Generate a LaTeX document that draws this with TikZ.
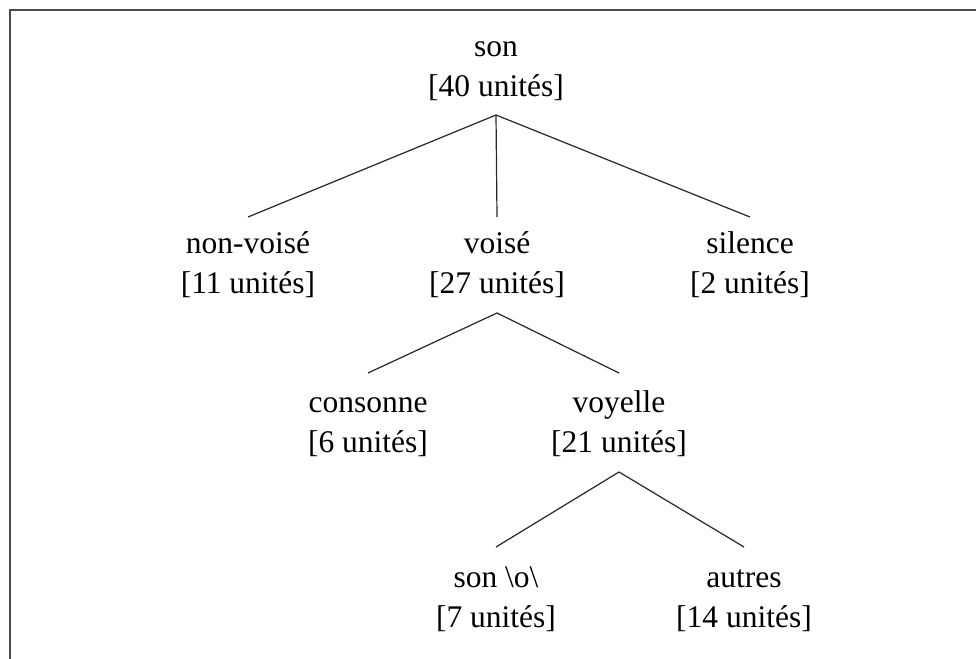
\documentclass[tikz,border=0pt]{standalone}
\usepackage{fontspec}
\setmainfont{Liberation Serif}
\usepackage{tikz}

\begin{document}
\begin{tikzpicture}[x=1pt, y=-1pt,
    lbl/.style={anchor=base, inner sep=0pt, align=center,
                font=\fontsize{31.5}{40}\selectfont},
    branch/.style={black!85, line width=1.2pt}]
  \useasboundingbox (0,0) rectangle (976,658);
  % ---- frame (open towards the cut edges) ----
  \draw[black!70, line width=1.5pt] (10,660) -- (10,10) -- (978,10);
  % ---- nodes, by level (base = baseline of the count line) ----
  \node[lbl] (son)      at (496,97)  {son\\{}[40 unités]};
  \node[lbl] (nonvoise) at (248,293) {non-voisé\\{}[11 unités]};
  \node[lbl] (voise)    at (497,293) {voisé\\{}[27 unités]};
  \node[lbl] (silence)  at (750,293) {silence\\{}[2 unités]};
  \node[lbl] (consonne) at (368,452) {consonne\\{}[6 unités]};
  \node[lbl] (voyelle)  at (619,452) {voyelle\\{}[21 unités]};
  \node[lbl] (sono)     at (496,627) {son \textbackslash o\textbackslash\\{}[7 unités]};
  \node[lbl] (autres)   at (744,627) {autres\\{}[14 unités]};
  % ---- branches ----
  \draw[branch] ([yshift=-18pt]son.base) -- ([yshift=76pt]nonvoise.base);
  \draw[branch] ([yshift=-18pt]son.base) -- ([yshift=76pt]voise.base);
  \draw[branch] ([yshift=-18pt]son.base) -- ([yshift=76pt]silence.base);
  \draw[branch] ([yshift=-20pt]voise.base) -- ([yshift=79pt]consonne.base);
  \draw[branch] ([yshift=-20pt]voise.base) -- ([yshift=79pt]voyelle.base);
  \draw[branch] ([yshift=-20pt]voyelle.base) -- ([yshift=80pt]sono.base);
  \draw[branch] ([yshift=-20pt]voyelle.base) -- ([yshift=80pt]autres.base);
\end{tikzpicture}
\end{document}
